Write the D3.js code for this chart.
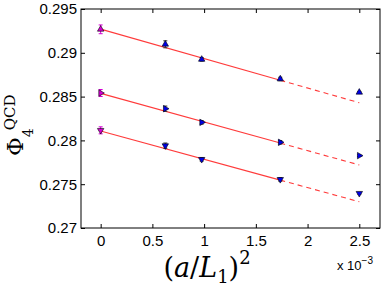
<!DOCTYPE html>
<html>
<head>
<meta charset="utf-8">
<script src="https://cdn.jsdelivr.net/npm/d3@7"></script>
<style>
  body { margin: 0; background: #fff; }
  svg text { font-family: "Liberation Sans", Arial, sans-serif; }
  .math { font-family: "DejaVu Serif", "Liberation Serif", serif; }
</style>
</head>
<body>
<div id="chart"></div>
<script>
// x values in units of 1e-3: (a/L1)^2 for L/a = inf, 40, 32, 24, 20
const xVals = [0, 0.625, 0.9766, 1.7361, 2.5];
const xTicks = [0, 0.5, 1, 1.5, 2, 2.5];
const yTicks = [0.27, 0.275, 0.28, 0.285, 0.29, 0.295];

const seriesUp = [0.29268, 0.29097, 0.28925, 0.28701, 0.28549];
const seriesRight = [0.28541, 0.28362, 0.28206, 0.27978, 0.27826];
const seriesDown = [0.28115, 0.27940, 0.27784, 0.27555, 0.27396];

const errUp = [0.0005, 0.0004, 0.0002, 0.0002, 0.0001];
const errRight = [0.0004, 0.0003, 0.0002, 0.0002, 0.0001];
const errDown = [0.0004, 0.0003, 0.0002, 0.0002, 0.0001];

// linear fits: intercept and slope (per 1e-3)
const fitIntercept = [0.2927, 0.28537, 0.28107];
const fitSlope = [-0.00336, -0.00327, -0.00323];
const fitEndSolid = 1.7361;
const fitEndDashed = 2.5;

const width = 382, height = 287;
const margin = { top: 9, right: 2, bottom: 59, left: 81 };

const svg = d3.select("#chart")
  .append("svg")
  .attr("width", width)
  .attr("height", height);

const x = d3.scaleLinear()
  .domain([-0.19, 2.7])
  .range([margin.left, width - margin.right]);

const y = d3.scaleLinear()
  .domain([0.27, 0.295])
  .range([height - margin.bottom, margin.top]);

const x0 = margin.left, x1 = width - margin.right;
const y0 = height - margin.bottom, y1 = margin.top;

// axes, ticks pointing inward, mirrored
svg.append("g")
  .attr("transform", `translate(0,${y0})`)
  .call(d3.axisBottom(x).tickValues(xTicks).tickSize(-4).tickPadding(7)
    .tickFormat(d3.format("")).tickSizeOuter(0))
  .call(g => g.selectAll("text").attr("font-size", 15).attr("fill", "#000"))
  .call(g => g.select(".domain").remove());

svg.append("g")
  .attr("transform", `translate(0,${y1})`)
  .call(d3.axisTop(x).tickValues(xTicks).tickSize(-4).tickFormat("").tickSizeOuter(0))
  .call(g => g.select(".domain").remove());

svg.append("g")
  .attr("transform", `translate(${x0},0)`)
  .call(d3.axisLeft(y).tickValues(yTicks).tickSize(-4).tickPadding(4)
    .tickFormat(d3.format("")).tickSizeOuter(0))
  .call(g => g.selectAll("text").attr("font-size", 15).attr("fill", "#000"))
  .call(g => g.select(".domain").remove());

svg.append("g")
  .attr("transform", `translate(${x1},0)`)
  .call(d3.axisRight(y).tickValues(yTicks).tickSize(-4).tickFormat("").tickSizeOuter(0))
  .call(g => g.select(".domain").remove());

svg.append("rect")
  .attr("x", x0).attr("y", y1)
  .attr("width", x1 - x0).attr("height", y0 - y1)
  .attr("fill", "none").attr("stroke", "#000").attr("stroke-width", 1);

// fit lines
fitIntercept.forEach((a, i) => {
  const b = fitSlope[i];
  svg.append("line")
    .attr("x1", x(0)).attr("y1", y(a))
    .attr("x2", x(fitEndSolid)).attr("y2", y(a + b * fitEndSolid))
    .attr("stroke", "#ff3b3b").attr("stroke-width", 1.1);
  svg.append("line")
    .attr("x1", x(fitEndSolid)).attr("y1", y(a + b * fitEndSolid))
    .attr("x2", x(fitEndDashed)).attr("y2", y(a + b * fitEndDashed))
    .attr("stroke", "#ff3b3b").attr("stroke-width", 1.1)
    .attr("stroke-dasharray", "5,4");
});

// data points
const series = [
  { vals: seriesUp, errs: errUp, rot: 0 },
  { vals: seriesRight, errs: errRight, rot: 90 },
  { vals: seriesDown, errs: errDown, rot: 180 }
];

const tri = d3.symbol().type(d3.symbolTriangle).size(18);

series.forEach(s => {
  const pts = xVals.map((xv, j) => ({ x: xv, y: s.vals[j], e: s.errs[j], first: j === 0 }));
  const g = svg.append("g");
  g.selectAll(".err")
    .data(pts)
    .join("g")
    .each(function (d) {
      const c = d.first ? "#d400d4" : "#333";
      const sel = d3.select(this);
      sel.append("line")
        .attr("x1", x(d.x)).attr("x2", x(d.x))
        .attr("y1", y(d.y - d.e)).attr("y2", y(d.y + d.e))
        .attr("stroke", c).attr("stroke-width", 1);
      [d.y - d.e, d.y + d.e].forEach(v => {
        sel.append("line")
          .attr("x1", x(d.x) - 2).attr("x2", x(d.x) + 2)
          .attr("y1", y(v)).attr("y2", y(v))
          .attr("stroke", c).attr("stroke-width", 1);
      });
    });
  g.selectAll("path")
    .data(pts)
    .join("path")
    .attr("d", tri)
    .attr("transform", d => `translate(${x(d.x)},${y(d.y)}) rotate(${s.rot})`)
    .attr("fill", d => d.first ? "#d400d4" : "#0000e6")
    .attr("stroke", "#000")
    .attr("stroke-width", 0.6);
});

// axis labels
const xl = svg.append("text")
  .attr("class", "math")
  .attr("x", 207).attr("y", 277)
  .attr("text-anchor", "middle")
  .attr("font-size", 27);
xl.append("tspan").text("(");
xl.append("tspan").attr("font-style", "italic").text("a");
xl.append("tspan").text("/");
xl.append("tspan").attr("font-style", "italic").text("L");
xl.append("tspan").attr("font-size", 18).attr("dy", 6).text("1");
xl.append("tspan").attr("dy", -6).text(")");
xl.append("tspan").attr("font-size", 18).attr("dy", -13).text("2");

const yl = svg.append("text")
  .attr("class", "math")
  .attr("transform", "translate(23,156) rotate(-90)")
  .attr("font-size", 23);
yl.append("tspan").text("Φ");
yl.append("tspan").attr("font-size", 14).attr("dy", 10).text("4");
yl.append("tspan").attr("font-size", 15).attr("dx", -2).attr("dy", -18).text("QCD");

const ex = svg.append("text")
  .attr("x", 337).attr("y", 270)
  .attr("font-size", 13);
ex.append("tspan").text("x 10");
ex.append("tspan").attr("font-size", 10).attr("dy", -6).text("−3");
</script>
</body>
</html>
